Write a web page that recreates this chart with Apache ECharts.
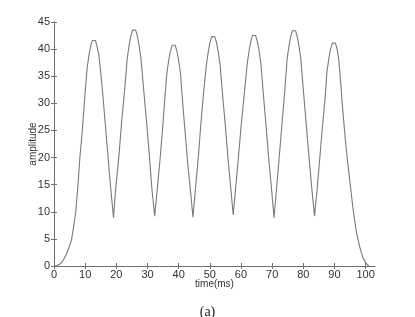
<!DOCTYPE html>
<html>
<head>
<meta charset="utf-8">
<script src="https://cdn.jsdelivr.net/npm/echarts@6/dist/echarts.min.js"></script>
<style>html,body{margin:0;padding:0;background:#fff}#c{width:415px;height:317px}</style>
</head>
<body>
<div id="c"></div>
<script>
// time (ms)
var timeMs = [
  0, 1, 2, 3, 4, 5, 5.6, 6.4, 7.0, 7.7, 8.3, 8.9, 9.8, 10.6, 11.2, 11.7, 12.3, 12.8,
  13.3, 13.8, 14.4, 14.9, 15.5, 16.4, 17.3, 18.2, 19.1,
  19.8, 20.85, 21.7, 22.7, 23.5, 24.1, 24.6, 25.2, 25.7, 26.2, 26.8, 27.3, 27.9, 28.7, 29.7, 30.6, 31.4, 32.3,
  33.1, 34.0, 34.8, 35.5, 36.2, 36.8, 37.3, 37.9, 38.4, 38.9, 39.5, 40.0, 40.6, 41.3, 42.1, 42.9, 43.8, 44.6,
  45.4, 46.3, 47.1, 48.0, 48.9, 49.5, 50.0, 50.6, 51.1, 51.6, 52.2, 52.7, 53.3, 54.1, 55.0, 55.8, 56.7, 57.5,
  58.3, 59.2, 60.1, 61.1, 62.0, 62.6, 63.1, 63.7, 64.2, 64.7, 65.3, 65.8, 66.4, 67.2, 68.1, 68.9, 69.8, 70.6,
  71.4, 72.3, 73.2, 74.1, 74.8, 75.4, 75.9, 76.5, 77.0, 77.5, 78.1, 78.6, 79.2, 80.0, 80.9, 81.8, 82.7, 83.6,
  84.4, 85.3, 86.1, 87.0, 87.6, 88.2, 88.7, 89.3, 89.8, 90.3, 90.9, 91.4, 92.0, 92.4, 93.1, 93.7, 94.1, 95.0,
  96.0, 97.1, 98.2, 99.2, 100.3, 101
];
// amplitude
var amplitude = [
  0, 0.1, 0.4, 1.1, 2.2, 3.7, 4.8, 7.6, 10.1, 15.0, 20.0, 23.8, 30.5, 36.4, 38.8, 40.4, 41.6, 41.9,
  41.6, 40.5, 38.9, 36.2, 32.7, 26.6, 20.4, 14.3, 8.9,
  14.3, 20.4, 26.6, 32.7, 38.3, 40.7, 42.3, 43.5, 43.8, 43.5, 42.3, 40.7, 38.3, 33.0, 26.6, 20.4, 14.3, 9.2,
  14.0, 19.5, 25.0, 30.5, 35.5, 37.9, 39.5, 40.7, 41.0, 40.7, 39.5, 37.9, 35.5, 30.0, 24.5, 19.0, 13.8, 9.0,
  14.3, 20.0, 26.0, 32.0, 37.1, 39.5, 41.1, 42.3, 42.6, 42.3, 41.1, 39.5, 37.1, 31.5, 25.8, 20.0, 14.5, 9.4,
  14.5, 20.2, 26.2, 32.0, 37.3, 39.7, 41.3, 42.5, 42.8, 42.5, 41.3, 39.7, 37.3, 31.5, 25.5, 19.8, 14.2, 8.9,
  14.2, 20.3, 26.5, 32.6, 38.2, 40.6, 42.2, 43.4, 43.7, 43.4, 42.2, 40.6, 38.2, 32.5, 26.4, 20.3, 14.4, 9.2,
  14.0, 20.0, 25.5, 31.0, 35.9, 38.3, 39.9, 41.1, 41.4, 41.1, 39.9, 37.9, 33.8, 30.5, 25.8, 22.0, 19.8, 15.3,
  10.3, 6.0, 3.3, 1.4, 0.4, 0.0
];
var xTicks = [0, 10, 20, 30, 40, 50, 60, 70, 80, 90, 100];
var yTicks = [0, 5, 10, 15, 20, 25, 30, 35, 40, 45];

var pts = timeMs.map(function (t, i) { return [t, amplitude[i]]; });
var axisColor = '#707070';
var labelStyle = { color: '#333', fontFamily: 'Liberation Sans, Arial, sans-serif', fontSize: 11 };

var chart = echarts.init(document.getElementById('c'), null, { renderer: 'canvas' });
chart.setOption({
  animation: false,
  backgroundColor: '#fff',
  title: {
    text: '(a)', left: 'center', top: 300,
    textStyle: { fontFamily: 'Liberation Serif, Times New Roman, serif', fontSize: 14, fontWeight: 'normal', color: '#222' }
  },
  grid: { left: 54, right: 40, top: 22, bottom: 51, containLabel: false },
  xAxis: [{
    type: 'value', min: 0, max: 103, position: 'bottom',
    name: 'time(ms)', nameLocation: 'middle', nameGap: 13, nameMoveOverlap: false,
    nameTextStyle: { color: '#333', fontFamily: 'Liberation Sans, Arial, sans-serif', fontSize: 10 },
    axisLine: { show: true, lineStyle: { color: axisColor, width: 1 } },
    axisTick: { show: true, inside: true, length: 3, customValues: xTicks, lineStyle: { color: axisColor } },
    axisLabel: Object.assign({ customValues: xTicks, margin: 3 }, labelStyle),
    splitLine: { show: false }
  }, {
    type: 'value', min: 0, max: 103, position: 'top',
    axisLine: { show: true, lineStyle: { color: axisColor, width: 1 } },
    axisTick: { show: true, inside: true, length: 3, customValues: xTicks, lineStyle: { color: axisColor } },
    axisLabel: { show: false },
    splitLine: { show: false }
  }],
  yAxis: [{
    type: 'value', min: 0, max: 45, interval: 5, position: 'left',
    name: 'amplitude', nameLocation: 'middle', nameGap: 16, nameRotate: 90, nameMoveOverlap: false,
    nameTextStyle: { color: '#333', fontFamily: 'Liberation Sans, Arial, sans-serif', fontSize: 10 },
    axisLine: { show: true, lineStyle: { color: axisColor, width: 1 } },
    axisTick: { show: true, inside: true, length: 3, customValues: yTicks, lineStyle: { color: axisColor } },
    axisLabel: Object.assign({ customValues: yTicks, margin: 4 }, labelStyle),
    splitLine: { show: false }
  }, {
    type: 'value', min: 0, max: 45, interval: 5, position: 'right',
    axisLine: { show: true, lineStyle: { color: axisColor, width: 1 } },
    axisTick: { show: true, inside: true, length: 3, customValues: yTicks, lineStyle: { color: axisColor } },
    axisLabel: { show: false },
    splitLine: { show: false }
  }],
  series: [{
    type: 'line',
    data: pts,
    xAxisIndex: 0, yAxisIndex: 0,
    showSymbol: false,
    smooth: false,
    lineStyle: { color: '#7a7a7a', width: 1.1 }
  }]
});
</script>
</body>
</html>
